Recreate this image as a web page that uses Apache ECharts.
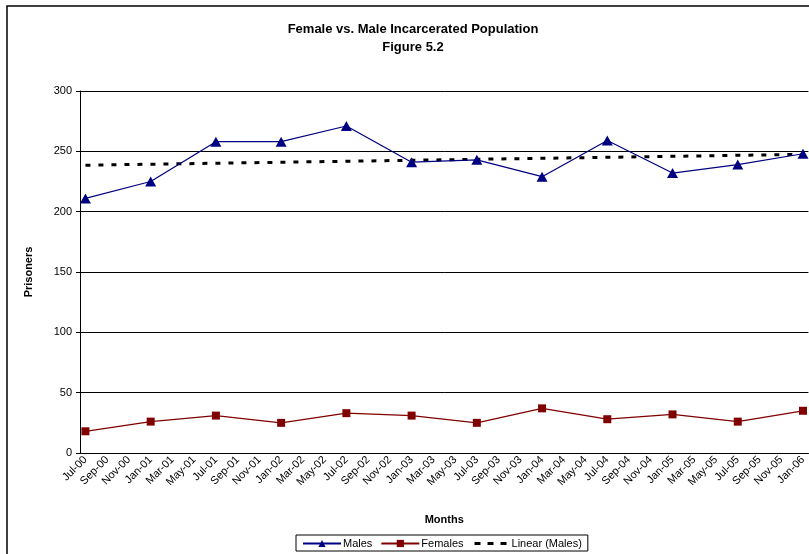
<!DOCTYPE html>
<html>
<head>
<meta charset="utf-8">
<script src="https://cdn.jsdelivr.net/npm/echarts@6/dist/echarts.min.js"></script>
<style>
  html, body { margin: 0; padding: 0; background: #fff; }
  #chart { width: 809px; height: 554px; }
</style>
</head>
<body>
<div id="chart"></div>
<script>
// Monthly category axis, Jul-00 through Jan-06
const months = [
  'Jul-00','Aug-00','Sep-00','Oct-00','Nov-00','Dec-00',
  'Jan-01','Feb-01','Mar-01','Apr-01','May-01','Jun-01','Jul-01','Aug-01','Sep-01','Oct-01','Nov-01','Dec-01',
  'Jan-02','Feb-02','Mar-02','Apr-02','May-02','Jun-02','Jul-02','Aug-02','Sep-02','Oct-02','Nov-02','Dec-02',
  'Jan-03','Feb-03','Mar-03','Apr-03','May-03','Jun-03','Jul-03','Aug-03','Sep-03','Oct-03','Nov-03','Dec-03',
  'Jan-04','Feb-04','Mar-04','Apr-04','May-04','Jun-04','Jul-04','Aug-04','Sep-04','Oct-04','Nov-04','Dec-04',
  'Jan-05','Feb-05','Mar-05','Apr-05','May-05','Jun-05','Jul-05','Aug-05','Sep-05','Oct-05','Nov-05','Dec-05',
  'Jan-06'
];

// Semi-annual counts
const sampleMonths = ['Jul-00','Jan-01','Jul-01','Jan-02','Jul-02','Jan-03','Jul-03','Jan-04','Jul-04','Jan-05','Jul-05','Jan-06'];
const males   = [211, 225, 258, 258, 271, 241, 243, 229, 259, 232, 239, 248];
const females = [18, 26, 31, 25, 33, 31, 25, 37, 28, 32, 26, 35];

// Linear trend of the male counts, at its first and last month
const trendMonths = ['Jul-00', 'Jan-06'];
const trendMales  = [238.5, 247.5];

const yTicks = { min: 0, max: 300, step: 50 };

const FONT = 'Liberation Sans, Arial, sans-serif';

const pairs = (xs, ys) => xs.map((x, i) => [x, ys[i]]);

// Legend swatch for the dotted trend: three short dashes inside a 38x9 box
const dashIcon = 'path://M0,0L0,0M38,9L38,9M3,3h6v3h-6zM16,3h6v3h-6zM29,3h6v3h-6z';

const chart = echarts.init(document.getElementById('chart'), null, { renderer: 'canvas' });

chart.setOption({
  animation: false,
  backgroundColor: '#fff',
  textStyle: { fontFamily: FONT, color: '#000' },
  graphic: [
    {
      type: 'rect',
      shape: { x: 7, y: 6, width: 900, height: 700 },
      style: { fill: 'none', stroke: '#000', lineWidth: 1.5 },
      silent: true
    },
    {
      type: 'text',
      style: {
        x: 413, y: 29, text: 'Female vs. Male Incarcerated Population',
        font: 'bold 13px ' + FONT, fill: '#000',
        textAlign: 'center', textVerticalAlign: 'middle'
      }
    },
    {
      type: 'text',
      style: {
        x: 413, y: 47, text: 'Figure 5.2',
        font: 'bold 13px ' + FONT, fill: '#000',
        textAlign: 'center', textVerticalAlign: 'middle'
      }
    }
  ],
  legend: {
    left: 296, top: 535,
    padding: [3, 6, 2, 6],
    itemGap: 8,
    itemWidth: 38, itemHeight: 9,
    borderColor: '#000', borderWidth: 1,
    textStyle: { fontSize: 11, fontFamily: FONT, color: '#000', padding: [0, 0, 0, -3] },
    data: ['Males', 'Females', { name: 'Linear (Males)', icon: dashIcon }]
  },
  grid: { left: 80, top: 91, width: 730, height: 362 },
  xAxis: {
    type: 'category',
    data: months,
    boundaryGap: true,
    name: 'Months',
    nameLocation: 'middle',
    nameGap: 61,
    nameTextStyle: { fontWeight: 'bold', fontSize: 11, fontFamily: FONT, color: '#000' },
    axisLine: { lineStyle: { color: '#000', width: 1 } },
    axisTick: { interval: 1, length: 4, lineStyle: { color: '#000' } },
    axisLabel: {
      interval: 1, rotate: 45, margin: 5,
      fontSize: 11, fontFamily: FONT, color: '#000'
    },
    splitLine: { show: false }
  },
  yAxis: {
    type: 'value',
    min: yTicks.min, max: yTicks.max, interval: yTicks.step,
    name: 'Prisoners',
    nameLocation: 'middle',
    nameRotate: 90,
    nameGap: 46,
    nameTextStyle: { fontWeight: 'bold', fontSize: 11, fontFamily: FONT, color: '#000' },
    axisLine: { show: true, lineStyle: { color: '#000', width: 1 } },
    axisTick: { show: true, length: 4, lineStyle: { color: '#000' } },
    axisLabel: { margin: 8, fontSize: 11, fontFamily: FONT, color: '#000' },
    splitLine: { lineStyle: { color: '#000', width: 1 } }
  },
  series: [
    {
      name: 'Males',
      type: 'line',
      data: pairs(sampleMonths, males),
      connectNulls: true,
      symbol: 'triangle',
      symbolSize: [11, 10],
      lineStyle: { color: '#000080', width: 1.25 },
      itemStyle: { color: '#000080' },
      z: 3
    },
    {
      name: 'Females',
      type: 'line',
      data: pairs(sampleMonths, females),
      connectNulls: true,
      symbol: 'rect',
      symbolSize: 8,
      lineStyle: { color: '#800000', width: 1.25 },
      itemStyle: { color: '#800000' },
      z: 3
    },
    {
      name: 'Linear (Males)',
      type: 'line',
      data: pairs(trendMonths, trendMales),
      connectNulls: true,
      symbol: 'none',
      lineStyle: { color: '#000', width: 3, type: [5, 8] },
      itemStyle: { color: '#000' },
      z: 2
    }
  ]
});
</script>
</body>
</html>
